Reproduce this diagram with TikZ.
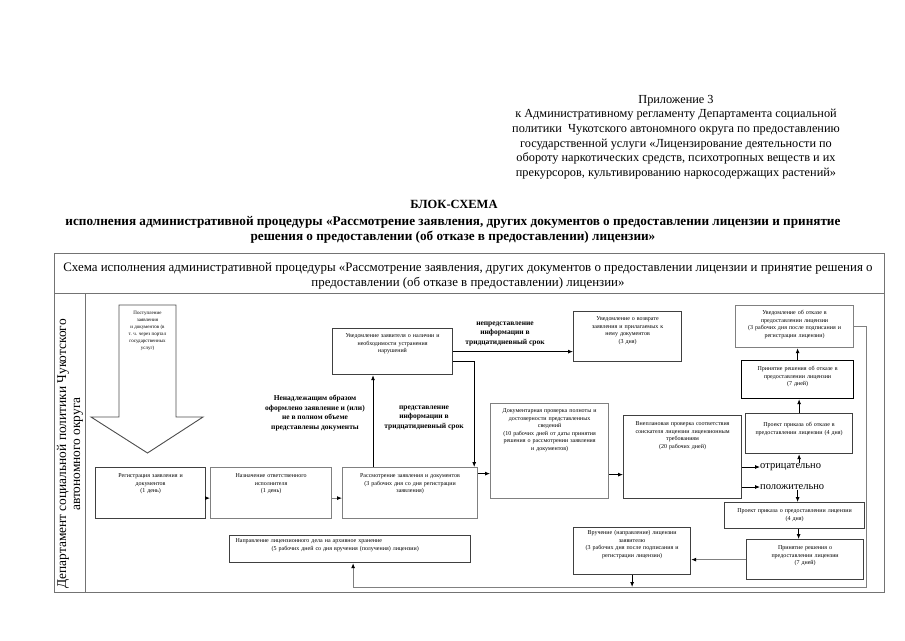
\documentclass[tikz,border=0pt]{standalone}
\usepackage{fontspec}
\setmainfont{Liberation Serif}
\usetikzlibrary{arrows.meta}

\begin{document}
\begin{tikzpicture}[x=1pt,y=-1pt]
\tikzstyle{frame} = [draw=black!55, line width=0.9pt]
\tikzstyle{box} = [draw=black!75, line width=1.2pt, anchor=north west, align=center,
  inner xsep=2pt, inner ysep=0pt, text height=9pt, font=\fontsize{6}{7.5}\selectfont]
\tikzstyle{gbox} = [box, draw=black!50]
\tikzstyle{arr} = [line width=0.8pt, -{Latex[length=5pt,width=4pt]}]
\tikzstyle{garr} = [arr, draw=black!50, -{Latex[length=5pt,width=4pt,color=black]}]
\tikzstyle{lbl} = [align=center, font=\bfseries\fontsize{7.5}{9.5}\selectfont]
\tikzstyle{res} = [anchor=west, inner sep=0pt, font=\fontsize{10.5}{12}\selectfont]
\useasboundingbox (0,0) rectangle (905,640);

% heading
\node[align=center, font=\fontsize{12.3}{14.6}\selectfont] (appx) at (676,137)
  {Приложение 3\\ к Административному регламенту Департамента социальной\\
   политики~ Чукотского автономного округа по предоставлению\\
   государственной услуги «Лицензирование деятельности по\\
   обороту наркотических средств, психотропных веществ и их\\
   прекурсоров, культивированию наркосодержащих растений»};
\node[font=\bfseries\fontsize{12.5}{14}\selectfont] (ttl) at (454,204) {БЛОК-СХЕМА};
\node[align=center, font=\bfseries\fontsize{13.2}{15}\selectfont] (sub) at (453,230)
  {исполнения административной процедуры «Рассмотрение заявления, других документов о предоставлении лицензии и принятие\\
   решения о предоставлении (об отказе в предоставлении) лицензии»};

% frame
\draw[frame] (54,253) rectangle (884,592);
\draw[frame] (54,293) -- (884,293);
\draw[frame] (85,293) -- (85,592);
\node[align=center, font=\fontsize{12.9}{15}\selectfont] (hdr) at (468,275.5)
  {Схема исполнения административной процедуры «Рассмотрение заявления, других документов о предоставлении лицензии и принятие решения о\\
   предоставлении (об отказе в предоставлении) лицензии»};
\node[rotate=90, align=center, font=\fontsize{13.4}{14}\selectfont] (dep) at (70,454)
  {Департамент социальной политики Чукотского\\ автономного округа};

% incoming arrow
\draw[frame, draw=black!70] (119,305) -- (176,305) -- (176,417) -- (203,417)
  -- (147.5,453) -- (91,417) -- (119,417) -- cycle;
\node[align=center, font=\fontsize{5}{7}\selectfont] (post) at (147.5,331)
  {Поступление\\ заявления\\ и документов (в\\ т. ч. через портал\\ государственных\\ услуг)};

% boxes
\node[box, text width=106pt, text height=10pt, text depth=41pt] (reg) at (95,467)
  {Регистрация заявления и\\ документов\\ (1 день)};
\node[gbox, text width=117pt, text height=10pt, text depth=41pt] (nazn) at (210,467)
  {Назначение ответственного\\ исполнителя\\ (1 день)};
\node[gbox, text width=131pt, text height=10pt, text depth=41pt] (rass) at (342,467)
  {Рассмотрение заявления и документов\\ (3 рабочих дня со дня регистрации\\ заявления)};
\node[box, text width=116pt, text depth=37pt] (uvz) at (332,328)
  {Уведомление заявителя о наличии и\\ необходимости устранения\\ нарушений};
\node[box, text width=104pt, text depth=41pt] (uvv) at (573,311)
  {Уведомление о возврате\\ заявления и прилагаемых к\\ нему документов\\ (3 дня)};
\node[gbox, text width=114pt, text depth=86pt] (dok) at (490,403)
  {Документарная проверка полноты и\\ достоверности представленных\\ сведений\\
   (10 рабочих дней от даты принятия\\ решения о рассмотрении заявления\\ и документов)};
\node[box, text width=114pt, text height=10pt, text depth=73pt] (vnep) at (623,415)
  {Внеплановая проверка соответствия\\ соискателя лицензии лицензионным\\ требованиям\\ (20 рабочих дней)};
\node[gbox, text width=114pt, text depth=33pt] (uvo) at (735,305)
  {Уведомление об отказе в\\ предоставлении лицензии\\ (3 рабочих дня после подписания и\\ регистрации лицензии)};
\node[box, draw=black, text width=108pt, text height=10pt, text depth=28pt] (prot) at (741,360)
  {Принятие решения об отказе в\\ предоставлении лицензии\\ (7 дней)};
\node[box, text width=103pt, text height=13pt, text depth=27pt] (proo) at (745,413)
  {Проект приказа об отказе в\\ предоставлении лицензии (4 дня)};
\node[box, text width=136pt, text height=10pt, text depth=16pt] (prop) at (724,502)
  {Проект приказа о предоставлении лицензии\\ (4 дня)};
\node[box, text width=113pt, text height=10pt, text depth=30pt] (prip) at (746,539)
  {Принятие решения о\\ предоставлении лицензии\\ (7 дней)};
\node[box, text width=113pt, text height=7pt, text depth=40pt] (vruch) at (573,527)
  {Вручение (направление) лицензии\\ заявителю\\ (3 рабочих дня после подписания и\\ регистрации лицензии)};
\node[box, align=left, inner xsep=6pt, text width=229pt, text height=7pt, text depth=20pt] (arch) at (229,535)
  {Направление лицензионного дела на архивное хранение\\
   \hspace*{36pt}(5 рабочих дней со дня вручения (получения) лицензии)};

% labels
\node[lbl] (lnen) at (315,413)
  {Ненадлежащим образом\\ оформлено заявление и (или)\\ не в полном объеме\\ представлены документы};
\node[lbl] (lpred) at (424,418) {представление\\ информации в\\ тридцатидневный срок};
\node[lbl] (lnepr) at (505,334) {непредставление\\ информации в\\ тридцатидневный срок};
\node[res] (neg) at (760,467) {отрицательно};
\node[res] (pos) at (760,487) {положительно};
\coordinate (rb) at (866,587);

% connectors
\draw[arr] ([yshift=-5pt]reg.east) -- ([yshift=-5pt]nazn.west);
\draw[garr] ([yshift=-5pt]nazn.east) -- ([yshift=-5pt]rass.west);
\draw[arr] ([xshift=31pt]rass.north west) -- ([xshift=31pt]rass.north west |- uvz.south);
\draw[arr] ([yshift=-10pt]uvz.east) -| ([xshift=-4pt]rass.north east);
\draw[arr] (uvz.east) -- (uvz.east -| uvv.west);
\draw[arr] ([yshift=19.5pt]rass.east) -- ([yshift=19.5pt]rass.east -| dok.west);
\draw[arr] ([yshift=-23.5pt]dok.east) -- ([yshift=-23.5pt]dok.east -| vnep.west);
\draw[arr] (vnep.east |- neg.west) -- (neg.west);
\draw[arr] (vnep.east |- pos.west) -- (pos.west);
\draw[arr] (proo.south |- neg.north) -- (proo.south);
\draw[arr] (proo.north) -- (proo.north |- prot.south);
\draw[arr] (prot.north) -- (prot.north |- uvo.south);
\draw[arr] ([xshift=3pt]pos.south -| prop.north) -- ([xshift=3pt]prop.north);
\draw[arr] ([xshift=4pt]prop.south) -- ([xshift=4pt]prop.south |- prip.north);
\draw[garr] (prip.west) -- (prip.west -| vruch.east);
\draw[arr] (vruch.south) -- (vruch.south |- rb);
\draw[garr] (uvo.east) -| (rb) -| ([xshift=3pt]arch.south);
\end{tikzpicture}
\end{document}
